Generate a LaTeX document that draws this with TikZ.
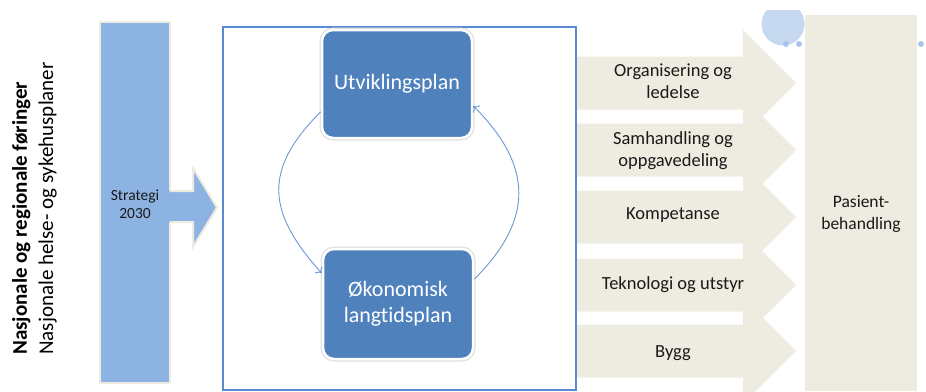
\documentclass[tikz,border=0pt]{standalone}
\usepackage{fontspec}
\setmainfont{Carlito}[Ligatures=NoCommon]
\usetikzlibrary{arrows.meta}
\definecolor{beige}{HTML}{EEECE1}
\definecolor{midblue}{HTML}{4F81BD}
\definecolor{barblue}{HTML}{8DB3E2}
\definecolor{frameblue}{HTML}{5A8AD0}
\definecolor{arcblue}{HTML}{6A98D4}
\definecolor{bubble}{HTML}{C6D9F1}
\definecolor{dot}{HTML}{A9C6EA}
\begin{document}
\begin{tikzpicture}[x=1pt,y=1pt,
  sidetext/.style={rotate=90,anchor=base west,inner sep=0pt},
  planbox/.style={rectangle,rounded corners=11pt,fill=midblue,draw=white,line width=2.5pt,
    minimum width=150pt,text=white,align=center,font=\fontsize{22}{26}\selectfont,
    preaction={draw=black!12,line width=5pt}},
  cyclearc/.style={draw=arcblue,line width=0.9pt,-{To[length=5pt,width=10pt]}},
  chevtext/.style={align=center,font=\fontsize{18.5}{22}\selectfont,text=black!90},
  chev/.style={fill=beige}
]
\useasboundingbox (0,0) rectangle (926,-391);

% left texts
\node[sidetext,font=\bfseries\fontsize{21}{25}\selectfont] (nat1) at (27,-355) {Nasjonale og regionale føringer};
\node[sidetext,font=\fontsize{21}{25}\selectfont] (nat2) at (53,-355) {Nasjonale helse- og sykehusplaner};

% strategy bar
\node[rectangle,fill=barblue,draw=beige,line width=2pt,minimum width=70pt,minimum height=361pt] (strat) at (135,-202.5) {};
\node[align=center,font=\fontsize{15.5}{18}\selectfont,text=black!90] (strattxt) at (135,-204) {Strategi\\2030};
\fill[barblue] (166,-191) -- (193,-191) -- (193,-168) -- (217,-207.5) -- (193,-247) -- (193,-222) -- (166,-222) -- cycle;
\draw[beige,line width=2pt,line join=miter] (170,-191) -- (193,-191) -- (193,-168) -- (217,-207.5) -- (193,-247) -- (193,-222) -- (170,-222);

% chevrons
\foreach \yy in {83,150,217,285,351}{
  \fill[chev] (577,-\yy+26.5) -- (743,-\yy+26.5) -- (743,-\yy+53) -- (796,-\yy) -- (743,-\yy-53) -- (743,-\yy-26.5) -- (577,-\yy-26.5) -- cycle;
}
\node[chevtext] (org) at (673,-81) {Organisering og\\ledelse};
\node[chevtext] (sam) at (673,-151) {Samhandling og\\oppgavedeling};
\node[chevtext] (kom) at (673,-215) {Kompetanse};
\node[chevtext] (tek) at (673,-285) {Teknologi og utstyr};
\node[chevtext] (byg) at (673,-353) {Bygg};

% frame
\draw[frameblue,line width=1.4pt] (223,-27) rectangle (576,-390);

% plan boxes
\node[planbox,minimum height=108pt] (U) at (397,-84) {Utviklingsplan};
\node[planbox,minimum height=110pt] (O) at (398,-304) {Økonomisk\\langtidsplan};
\draw[cyclearc] (U.200) to[out=225,in=132,looseness=1.3] (O.158);
\draw[cyclearc] (O.18) to[out=45,in=-45,looseness=1.25] (U.344);

% patient box
\node[rectangle,fill=beige,minimum width=112pt,minimum height=376pt] (pas) at (861,-203) {};
\node[align=center,font=\fontsize{17.5}{22}\selectfont,text=black!90] (pastxt) at (861,-214) {Pasient-\\behandling};

% decorative bubbles
\begin{scope}
\clip (740,-10) rectangle (830,-60);
\fill[bubble] (783,-24) circle (21.5pt);
\end{scope}
\fill[dot] (786,-44) circle (3pt);
\fill[dot] (799,-44) circle (3pt);
\fill[dot] (921,-44) circle (3pt);
\end{tikzpicture}
\end{document}
